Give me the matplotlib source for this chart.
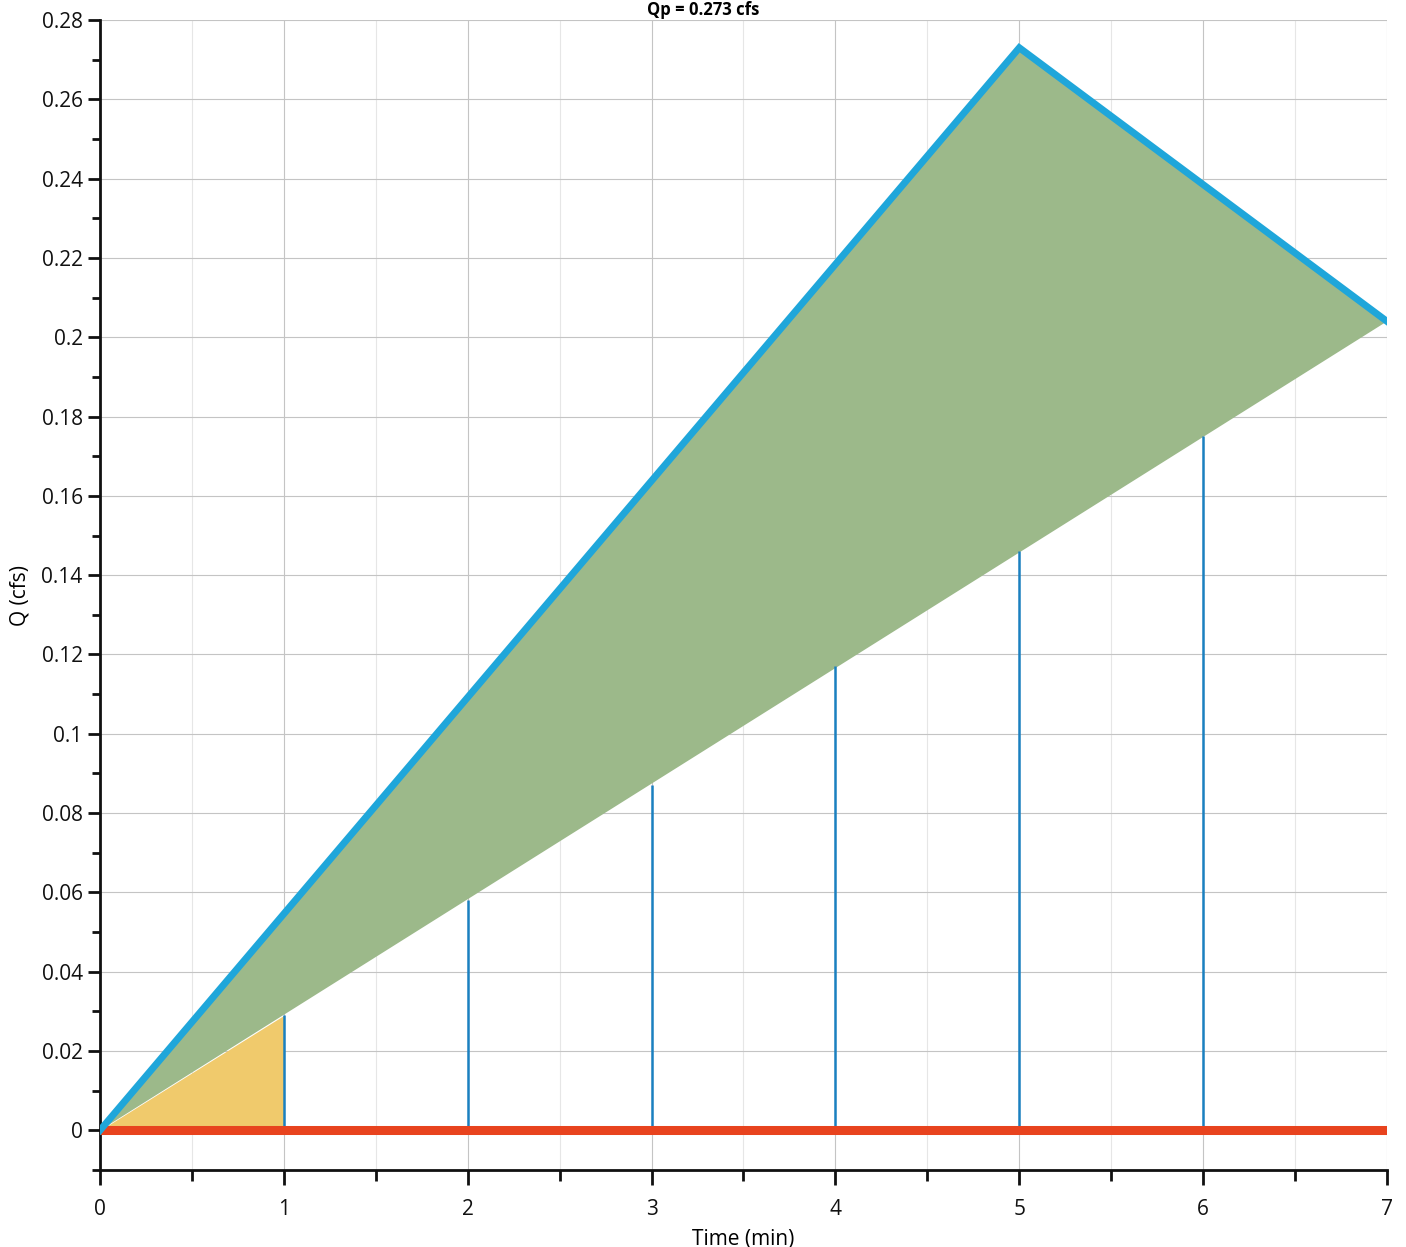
import numpy as np
import matplotlib
matplotlib.use("Agg")
import matplotlib.pyplot as plt
from matplotlib.ticker import MultipleLocator

plt.rcParams['font.family'] = ['Open Sans', 'DejaVu Sans']

# hydrograph (triangle) points
hydro_t = [0, 5, 7]
hydro_q = [0, 0.273, 0.204]

# straight line under the hydrograph
base_t = [0, 7]
base_q = [0, 0.204]

# ordinates read at each minute
ord_t = [1, 2, 3, 4, 5, 6]
ord_q = [0.029, 0.058, 0.087, 0.117, 0.146, 0.175]

# first minute (orange wedge)
first_t = [0, 1]
first_q = [0, 0.029]

zero_t = [0, 7]
zero_q = [0, 0]

fig = plt.figure(figsize=(14.06, 12.47), dpi=100)
ax = fig.add_axes([100 / 1406, 1 - 1170 / 1247, 1287 / 1406, 1150 / 1247])

ax.set_xlim(0, 7)
ax.set_ylim(-0.01, 0.28)

# grid
ax.xaxis.set_major_locator(MultipleLocator(1))
ax.xaxis.set_minor_locator(MultipleLocator(0.5))
ax.yaxis.set_major_locator(MultipleLocator(0.02))
ax.yaxis.set_minor_locator(MultipleLocator(0.01))
ax.grid(which='major', color='#c4c4c4', lw=0.8)
ax.grid(which='minor', axis='x', color='#e6e6e6', lw=0.8)
ax.set_axisbelow(True)

# fills
ax.fill(hydro_t, hydro_q, color='#9cb98a', lw=0, zorder=2)
ax.fill_between(first_t, 0, first_q, color='#f0ca6c', lw=0, zorder=2)

# ordinates
ax.vlines(ord_t, 0, ord_q, color='#1a80c0', lw=1.8, zorder=3)

ax.plot(zero_t, zero_q, color='#e8431e', lw=6.5, solid_capstyle='butt', zorder=4)
ax.plot(hydro_t, hydro_q, color='#1fa6da', lw=5, solid_joinstyle='miter', zorder=5)

# axes styling
for s in ['top', 'right']:
    ax.spines[s].set_visible(False)
for s in ['left', 'bottom']:
    ax.spines[s].set_linewidth(2)
    ax.spines[s].set_color('#111111')
ax.tick_params(which='major', length=9, width=2, labelsize=15, colors='#111111')
ax.tick_params(which='minor', length=6, width=2, colors='#111111')
ax.tick_params(axis='x', which='major', length=11, pad=10)
ax.tick_params(axis='x', which='minor', length=8)

ax.set_yticks(np.arange(0, 0.281, 0.02))
ax.set_yticklabels(['0'] + ['%g' % v for v in np.round(np.arange(0.02, 0.281, 0.02), 2)])
ax.set_xlabel('Time (min)', fontsize=15, labelpad=6)
ax.set_ylabel('Q (cfs)', fontsize=15, labelpad=8)

fig.text(0.5, 0.999, 'Qp = 0.273 cfs', ha='center', va='top', fontsize=12, fontweight='bold')

fig.savefig('out.png', dpi=100)
